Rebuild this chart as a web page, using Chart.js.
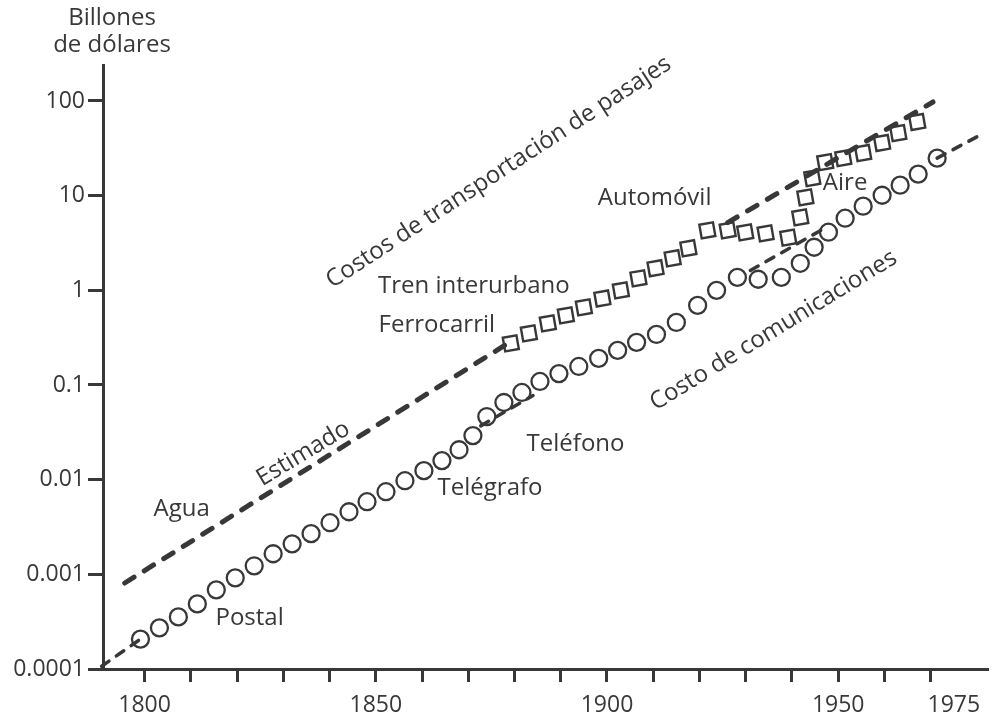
<!DOCTYPE html>
<html>
<head>
<meta charset="utf-8">
<script src="https://cdn.jsdelivr.net/npm/chart.js@4.4.1/dist/chart.umd.min.js"></script>
<style>
  html, body { margin: 0; padding: 0; background: #ffffff; }
  #wrap { width: 1001px; height: 722px; position: relative; }
</style>
</head>
<body>
<div id="wrap"><canvas id="chart"></canvas></div>
<script>
// Axis ticks
const yearTicks = [1800, 1810, 1820, 1830, 1840, 1850, 1860, 1870, 1880, 1890,
                   1900, 1910, 1920, 1930, 1940, 1950, 1960, 1970, 1975];
const labeledYears = [1800, 1850, 1900, 1950, 1975];
const valueTicks = [0.0001, 0.001, 0.01, 0.1, 1, 10, 100];
const valueTickLabels = ['0.0001', '0.001', '0.01', '0.1', '1', '10', '100'];

// Passenger transport costs (billions of dollars)
const transportEstYears = [1795.7, 1878.8];
const transportEstValues = [0.00081, 0.28];

const transportYears = [1879.2, 1883.1, 1887.2, 1891.1, 1895.0, 1899.0, 1903.0, 1906.8,
                        1910.5, 1914.2, 1917.6, 1921.7, 1926.1, 1929.9, 1934.3, 1939.2,
                        1941.8, 1942.9, 1944.4, 1947.2, 1951.1, 1955.4, 1959.5, 1963.0, 1967.1];
const transportValues = [0.275, 0.351, 0.448, 0.544, 0.66, 0.82, 1.0, 1.34,
                         1.71, 2.18, 2.78, 4.3, 4.3, 4.1, 4.0, 3.6,
                         5.9, 9.6, 15.3, 22.6, 24.9, 28.2, 36, 45.8, 60];

const transportTrendYears = [1926.1, 1970.5];
const transportTrendValues = [5.2, 97.6];

// Communication costs (billions of dollars)
const commYears = [1799.1, 1803.2, 1807.3, 1811.4, 1815.5, 1819.6, 1823.7, 1827.8, 1831.9,
                   1836.0, 1840.1, 1844.2, 1848.1, 1852.2, 1856.3, 1860.4, 1864.3, 1868.0,
                   1871.0, 1874.0, 1877.7, 1881.6, 1885.5, 1889.6, 1893.9, 1898.2, 1902.3,
                   1906.4, 1910.7, 1915.0, 1919.6, 1923.7, 1928.2, 1932.7, 1937.7, 1941.8,
                   1944.8, 1947.9, 1951.5, 1955.4, 1959.5, 1963.4, 1967.3, 1971.4];
const commValues = [0.000207, 0.000272, 0.000355, 0.000487, 0.000686, 0.000918, 0.00123, 0.00165, 0.0021,
                    0.00269, 0.00351, 0.00458, 0.00585, 0.00746, 0.00975, 0.01245, 0.0159, 0.0207,
                    0.0292, 0.0464, 0.0653, 0.0834, 0.109, 0.132, 0.157, 0.191, 0.232,
                    0.282, 0.342, 0.458, 0.693, 1.0, 1.37, 1.31, 1.37, 1.93,
                    2.85, 4.11, 5.78, 7.74, 10.1, 12.9, 16.9, 24.9];

const commStartYears = [1790.7, 1799.1];
const commStartValues = [0.000107, 0.000207];
// Telephone trend, drawn where it shows below the circles
const telephoneEarlyYears = [1872.7, 1884.0];
const telephoneEarlyValues = [0.037, 0.0774];
const telephoneLateYears = [1931.0, 1946.6];
const telephoneLateValues = [1.62, 4.4];
const commEndYears = [1971.4, 1980.7];
const commEndValues = [24.9, 43.6];

// Text placed on the plot
const annotationTexts = ['Costos de transportación de pasajes', 'Automóvil', 'Tren interurbano',
                         'Ferrocarril', 'Estimado', 'Agua', 'Postal', 'Telégrafo', 'Teléfono',
                         'Costo de comunicaciones', 'Aire'];
const annotationYears = [1876.6, 1910.3, 1871.2, 1863.2, 1834.3, 1808.0, 1822.7, 1874.7, 1893.2, 1936.0, 1951.5];
const annotationValues = [17.7, 9.4, 1.10, 0.426, 0.0188, 0.00493, 0.000347, 0.00822, 0.0240, 0.377, 13.6];
const annotationAngles = [-33, 0, 0, 0, -31, 0, 0, 0, 0, -31.5, 0];

const axisTitleLines = ['Billones', 'de dólares'];

const INK = '#383838';
const FONT = "'Open Sans', 'DejaVu Sans', sans-serif";

const pts = (xs, ys) => xs.map((x, i) => ({ x: x, y: ys[i] }));

const dashed = (data, width, dash) => ({
  data: data,
  showLine: true,
  borderColor: INK,
  borderWidth: width,
  borderDash: dash,
  borderCapStyle: 'round',
  pointRadius: 0,
  fill: false,
  tension: 0,
  clip: false
});

const annotationPlugin = {
  id: 'plotText',
  afterDatasetsDraw(chart) {
    const { ctx, scales } = chart;
    const sx = scales.x, sy = scales.y;
    ctx.save();
    ctx.fillStyle = INK;
    ctx.font = '24px ' + FONT;
    ctx.textAlign = 'center';
    ctx.textBaseline = 'middle';
    annotationTexts.forEach((t, i) => {
      ctx.save();
      ctx.translate(sx.getPixelForValue(annotationYears[i]), sy.getPixelForValue(annotationValues[i]));
      ctx.rotate(annotationAngles[i] * Math.PI / 180);
      ctx.fillText(t, 0, 0);
      ctx.restore();
    });
    // y-axis title above the axis
    const cx = chart.chartArea.left + 9;
    axisTitleLines.forEach((t, i) => {
      ctx.fillText(t, cx, 18 + i * 27);
    });
    ctx.restore();
  }
};

new Chart(document.getElementById('chart'), {
  type: 'scatter',
  data: {
    datasets: [
      dashed(pts(transportEstYears, transportEstValues), 5, [11, 12]),
      dashed(pts(transportTrendYears, transportTrendValues), 5, [11, 12]),
      {
        data: pts(transportYears, transportValues),
        showLine: false,
        pointStyle: 'rect',
        pointRadius: 9.8,
        pointRotation: -10,
        pointBorderWidth: 2.4,
        pointBorderColor: INK,
        pointBackgroundColor: 'rgba(255,255,255,0)',
        clip: false
      },
      dashed(pts(commStartYears, commStartValues), 3.5, [9, 9]),
      dashed(pts(telephoneEarlyYears, telephoneEarlyValues), 3.5, [9, 9]),
      dashed(pts(telephoneLateYears, telephoneLateValues), 3.5, [9, 9]),
      dashed(pts(commEndYears, commEndValues), 3.5, [9, 9]),
      {
        data: pts(commYears, commValues),
        showLine: false,
        pointStyle: 'circle',
        pointRadius: 8.5,
        pointBorderWidth: 2.3,
        pointBorderColor: INK,
        pointBackgroundColor: 'rgba(255,255,255,0)',
        clip: false
      }
    ]
  },
  options: {
    responsive: true,
    maintainAspectRatio: false,
    animation: false,
    devicePixelRatio: 1,
    layout: { padding: { top: 65, right: 13, left: 0, bottom: 0 } },
    plugins: { legend: { display: false }, tooltip: { enabled: false } },
    scales: {
      x: {
        type: 'linear',
        position: 'bottom',
        min: 1791,
        max: 1982.4,
        afterBuildTicks: (axis) => { axis.ticks = yearTicks.map(v => ({ value: v })); },
        afterFit: (axis) => { axis.height = 53; },
        ticks: {
          autoSkip: false,
          maxRotation: 0,
          padding: 10,
          color: INK,
          font: { family: FONT, size: 23 },
          callback: (v) => labeledYears.includes(v) ? String(v) : ''
        },
        grid: {
          drawOnChartArea: false,
          drawTicks: true,
          tickLength: 13,
          tickWidth: 3,
          tickColor: (c) => (c.tick && c.tick.value === 1975) ? 'rgba(0,0,0,0)' : INK
        },
        border: { display: true, color: INK, width: 3 }
      },
      y: {
        type: 'logarithmic',
        position: 'left',
        min: 0.0001,
        max: 240,
        afterBuildTicks: (axis) => { axis.ticks = valueTicks.map(v => ({ value: v })); },
        afterFit: (axis) => { axis.width = 103; },
        ticks: {
          autoSkip: false,
          padding: 3,
          color: INK,
          font: { family: FONT, size: 23 },
          callback: (v, i) => valueTickLabels[i]
        },
        grid: {
          drawOnChartArea: false,
          drawTicks: true,
          tickLength: 15,
          tickWidth: 3,
          tickColor: INK
        },
        border: { display: true, color: INK, width: 3 }
      }
    }
  },
  plugins: [annotationPlugin]
});
</script>
</body>
</html>
